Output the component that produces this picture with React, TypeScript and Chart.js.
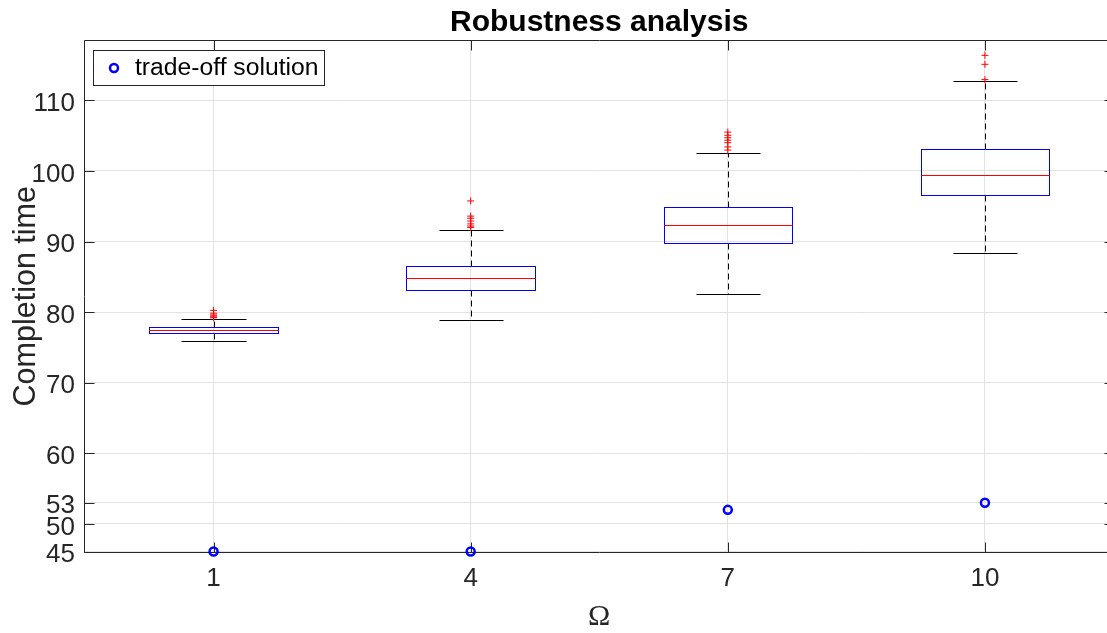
import React, { useEffect, useRef } from "react";
import { Chart, registerables } from "chart.js";

Chart.register(...registerables);

// ---- data ----
const omegaLabels = ["1", "4", "7", "10"];
const whiskerLow = [75.85, 78.87, 82.6, 88.35];
const quartile1 = [77.07, 83.15, 89.86, 96.6];
const medians = [77.45, 84.8, 92.3, 99.48];
const quartile3 = [77.83, 86.55, 94.95, 103.06];
const whiskerHigh = [79.0, 91.7, 102.55, 112.7];
const outliers1 = [80.25, 79.85, 79.6, 79.45, 79.3, 79.2];
const outliers4 = [95.75, 93.6, 93.3, 92.9, 92.5, 92.2, 92.0];
const outliers7 = [105.5, 105.05, 104.7, 104.35, 104.0, 103.4, 102.95];
const outliers10 = [116.37, 115.1, 112.93];
const tradeOff = [45, 45, 52, 53];
const yTickValues = [46.1, 50, 53, 60, 70, 80, 90, 100, 110];
const yTickLabels = ["45", "50", "53", "60", "70", "80", "90", "100", "110"];
const Y_MIN = 46.1;
const Y_MAX = 118.4;

const outlierGroups = [outliers1, outliers4, outliers7, outliers10];

// ---- style ----
const FONT = '"Liberation Sans", Arial, Helvetica, sans-serif';
const AXIS_COLOR = "#262626";
const GRID_COLOR = "#e2e2e2";
const BOX_HALF = 0.25;
const CAP_HALF = 0.125;
const TICK_LEN = 10;

const crisp = (v: number) => Math.round(v) + 0.5;

const boxPlugin = {
  id: "boxplotDraw",
  beforeDatasetsDraw(chart: any) {
    const { ctx, chartArea, scales } = chart;
    const x = scales.x;
    const y = scales.y;
    ctx.save();
    // axes box + inward ticks
    ctx.strokeStyle = AXIS_COLOR;
    ctx.lineWidth = 1;
    const L = crisp(chartArea.left) - 1;
    const R = crisp(chartArea.right);
    const T = crisp(chartArea.top) - 1;
    const B = crisp(chartArea.bottom);
    ctx.beginPath();
    ctx.rect(L, T, R - L, B - T);
    for (const v of yTickValues) {
      const py = crisp(y.getPixelForValue(v));
      ctx.moveTo(L, py);
      ctx.lineTo(L + TICK_LEN, py);
      ctx.moveTo(R, py);
      ctx.lineTo(R - TICK_LEN, py);
    }
    for (let i = 0; i < omegaLabels.length; i++) {
      const px = crisp(x.getPixelForValue(i + 1));
      ctx.moveTo(px, T);
      ctx.lineTo(px, T + TICK_LEN);
      ctx.moveTo(px, B);
      ctx.lineTo(px, B - TICK_LEN);
    }
    ctx.stroke();

    for (let i = 0; i < omegaLabels.length; i++) {
      const pos = i + 1;
      const xc = crisp(x.getPixelForValue(pos));
      const xl = crisp(x.getPixelForValue(pos - BOX_HALF));
      const xr = crisp(x.getPixelForValue(pos + BOX_HALF));
      const cl = crisp(x.getPixelForValue(pos - CAP_HALF));
      const cr = crisp(x.getPixelForValue(pos + CAP_HALF));
      const yQ1 = crisp(y.getPixelForValue(quartile1[i]));
      const yQ3 = crisp(y.getPixelForValue(quartile3[i]));
      const yMed = crisp(y.getPixelForValue(medians[i]));
      const yLo = crisp(y.getPixelForValue(whiskerLow[i]));
      const yHi = crisp(y.getPixelForValue(whiskerHigh[i]));

      // dashed whiskers
      ctx.strokeStyle = "#000000";
      ctx.lineWidth = 1;
      ctx.setLineDash([6, 4]);
      ctx.beginPath();
      ctx.moveTo(xc, yQ3);
      ctx.lineTo(xc, yHi);
      ctx.moveTo(xc, yQ1);
      ctx.lineTo(xc, yLo);
      ctx.stroke();
      ctx.setLineDash([]);
      // caps
      ctx.beginPath();
      ctx.moveTo(cl, yHi);
      ctx.lineTo(cr, yHi);
      ctx.moveTo(cl, yLo);
      ctx.lineTo(cr, yLo);
      ctx.stroke();
      // box
      ctx.strokeStyle = "#0000ff";
      ctx.strokeRect(xl, yQ3, xr - xl, yQ1 - yQ3);
      // median
      ctx.strokeStyle = "#ff0000";
      ctx.beginPath();
      ctx.moveTo(xl, yMed);
      ctx.lineTo(xr, yMed);
      ctx.stroke();
    }
    ctx.restore();
  },
  afterDraw(chart: any) {
    const { ctx } = chart;
    const ds = chart.data.datasets[0];
    ctx.save();
    const bx = 93.5, by = 50.5, bw = 231, bh = 35;
    ctx.fillStyle = "#ffffff";
    ctx.fillRect(bx, by, bw, bh);
    ctx.strokeStyle = AXIS_COLOR;
    ctx.lineWidth = 1;
    ctx.strokeRect(bx, by, bw, bh);
    ctx.strokeStyle = ds.borderColor;
    ctx.lineWidth = ds.borderWidth;
    ctx.beginPath();
    ctx.arc(114, 68, ds.pointRadius, 0, Math.PI * 2);
    ctx.stroke();
    ctx.fillStyle = "#000000";
    ctx.font = `24.7px ${FONT}`;
    ctx.textBaseline = "middle";
    ctx.textAlign = "left";
    ctx.fillText(ds.label, 135, 68.5);
    ctx.restore();
  },
};

export default function App() {
  const ref = useRef<HTMLCanvasElement | null>(null);

  useEffect(() => {
    if (!ref.current) return;
    const tradeData = tradeOff.map((v, i) => ({ x: i + 1, y: Math.max(v, Y_MIN) }));
    const outlierData = outlierGroups.flatMap((arr, i) => arr.map((v) => ({ x: i + 1, y: v })));

    const chart = new Chart(ref.current, {
      type: "scatter",
      data: {
        datasets: [
          {
            label: "trade-off solution",
            data: tradeData,
            pointStyle: "circle",
            pointRadius: 4,
            pointHoverRadius: 4,
            borderColor: "#0000ff",
            backgroundColor: "rgba(0,0,0,0)",
            borderWidth: 2.5,
            clip: false,
          } as any,
          {
            label: "outliers",
            data: outlierData,
            pointStyle: "cross",
            pointRadius: 3.5,
            pointHoverRadius: 3.5,
            borderColor: "#ff0000",
            backgroundColor: "#ff0000",
            borderWidth: 1,
            clip: false,
          } as any,
        ],
      },
      options: {
        animation: false,
        responsive: false,
        devicePixelRatio: 1,
        events: [],
        layout: { padding: { left: 0, right: 3, top: 0, bottom: 0 } },
        plugins: {
          legend: { display: false },
          tooltip: { enabled: false },
          title: {
            display: true,
            text: "Robustness analysis",
            color: "#000000",
            fullSize: false,
            font: { family: FONT, size: 30, weight: "bold" },
            padding: { top: 5, bottom: 0 },
          },
        },
        scales: {
          x: {
            type: "linear",
            min: 0.5,
            max: 4.5,
            afterBuildTicks: (scale: any) => {
              scale.ticks = omegaLabels.map((_, i) => ({ value: i + 1 }));
            },
            afterFit: (scale: any) => {
              scale.height = 81.5;
              scale.paddingLeft = 0;
              scale.paddingRight = 0;
            },
            ticks: {
              color: AXIS_COLOR,
              font: { family: FONT, size: 26 },
              padding: 12,
              maxRotation: 0,
              autoSkip: false,
              callback: (_v: any, i: number) => omegaLabels[i],
            },
            grid: { color: GRID_COLOR, drawTicks: false, lineWidth: 1 },
            border: { display: false },
            title: {
              display: true,
              text: "Ω",
              color: AXIS_COLOR,
              font: { family: '"Liberation Serif", "Times New Roman", serif', size: 30, lineHeight: 1 },
              padding: { top: 0, bottom: 1 },
            },
          },
          y: {
            type: "linear",
            min: Y_MIN,
            max: Y_MAX,
            afterBuildTicks: (scale: any) => {
              scale.ticks = yTickValues.map((v) => ({ value: v }));
            },
            afterFit: (scale: any) => {
              scale.width = 85;
              scale.paddingTop = 0;
              scale.paddingBottom = 0;
            },
            ticks: {
              color: AXIS_COLOR,
              font: { family: FONT, size: 26 },
              padding: 10,
              labelOffset: 3.5,
              autoSkip: false,
              callback: (_v: any, i: number) => yTickLabels[i],
            },
            grid: { color: GRID_COLOR, drawTicks: false, lineWidth: 1 },
            border: { display: false },
            title: {
              display: true,
              text: "Completion time",
              color: AXIS_COLOR,
              font: { family: FONT, size: 30.5 },
              padding: { top: 8, bottom: 0 },
            },
          },
        },
      } as any,
      plugins: [boxPlugin],
    });
    return () => chart.destroy();
  }, []);

  return (
    <div
      style={{
        position: "fixed",
        left: 0,
        top: 0,
        width: 1107,
        height: 633,
        overflow: "hidden",
        background: "#ffffff",
      }}
    >
      <canvas ref={ref} width={1120} height={633} style={{ display: "block" }} />
    </div>
  );
}
